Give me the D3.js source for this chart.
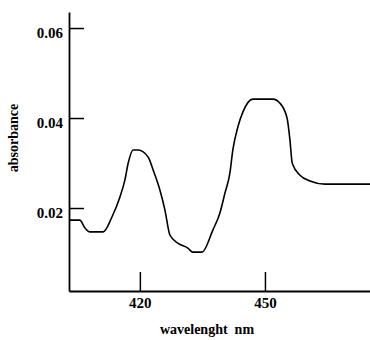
<!DOCTYPE html>
<meta charset="utf-8">
<script src="https://cdn.jsdelivr.net/npm/d3@7"></script>
<style>
  body { margin: 0; background: #fff; }
  text { font-family: "Liberation Serif", "DejaVu Serif", serif; font-weight: bold; }
</style>
<div id="chart"></div>
<script>
// spectrum
const wavelength = [403.2, 405.6, 406.8, 408.0, 411.2, 413.3, 415.2, 416.4, 417.2, 418.4, 419.6,
  422.0, 423.2, 424.8, 426.0, 427.2, 429.1, 431.5, 432.7, 434.9, 437.5, 439.2, 440.4, 441.6,
  442.3, 443.5, 444.7, 447.1, 451.9, 453.6, 455.3, 456.0, 456.5, 456.7, 458.4, 460.8, 464.4, 475.2];
const absorbance = [0.0173, 0.0173, 0.0156, 0.0147, 0.0147, 0.0180, 0.0224, 0.0262, 0.0300, 0.0329, 0.0329,
  0.0313, 0.0284, 0.0240, 0.0196, 0.0140, 0.0122, 0.0111, 0.0102, 0.0102, 0.0151, 0.0189, 0.0233, 0.0278,
  0.0329, 0.0380, 0.0413, 0.0442, 0.0442, 0.0433, 0.0400, 0.0351, 0.0302, 0.0296, 0.0273, 0.0260, 0.0253, 0.0253];
const xTicks = [420, 450];
const yTicks = [0.02, 0.04, 0.06];

const W = 370, H = 340;
const margin = {top: 12, right: 0, bottom: 49, left: 69};

const svg = d3.select("#chart").append("svg")
    .attr("width", W).attr("height", H);

const x = d3.scaleLinear().domain([403, 475.2]).range([margin.left, W - margin.right]);
const y = d3.scaleLinear().domain([0.00156, 0.06356]).range([H - margin.bottom, margin.top]);

// axes
const gx = svg.append("g")
    .attr("transform", `translate(0,${H - margin.bottom})`)
    .call(d3.axisBottom(x).tickValues(xTicks).tickFormat(d3.format("d"))
      .tickSizeInner(-19).tickSizeOuter(0).tickPadding(6));
const gy = svg.append("g")
    .attr("transform", `translate(${margin.left},0)`)
    .call(d3.axisLeft(y).tickValues(yTicks).tickFormat(d3.format(".2f"))
      .tickSizeInner(-15).tickSizeOuter(0).tickPadding(6));

[gx, gy].forEach(g => {
  g.select(".domain").attr("stroke", "#000").attr("stroke-width", 1.8);
  g.selectAll(".tick line").attr("stroke", "#000").attr("stroke-width", 1.5);
  g.selectAll(".tick text").attr("fill", "#000").style("font-size", "15px").attr("font-family", null);
});
gy.selectAll(".tick text").attr("dy", "0.6em");

// curve
svg.append("path")
    .datum(wavelength.map((w, i) => [w, absorbance[i]]))
    .attr("fill", "none")
    .attr("stroke", "#000")
    .attr("stroke-width", 1.6)
    .attr("stroke-linejoin", "round")
    .attr("d", d3.line()
      .curve(d3.curveMonotoneX)
      .x(d => x(d[0]))
      .y(d => y(d[1])));

// axis titles
svg.append("text")
    .attr("x", 207).attr("y", 334)
    .attr("text-anchor", "middle")
    .style("font-size", "14px")
    .style("white-space", "pre")
    .text("wavelenght  nm");
svg.append("text")
    .attr("transform", "translate(18,138) rotate(-90)")
    .attr("text-anchor", "middle")
    .style("font-size", "14px")
    .text("absorbance");
</script>
